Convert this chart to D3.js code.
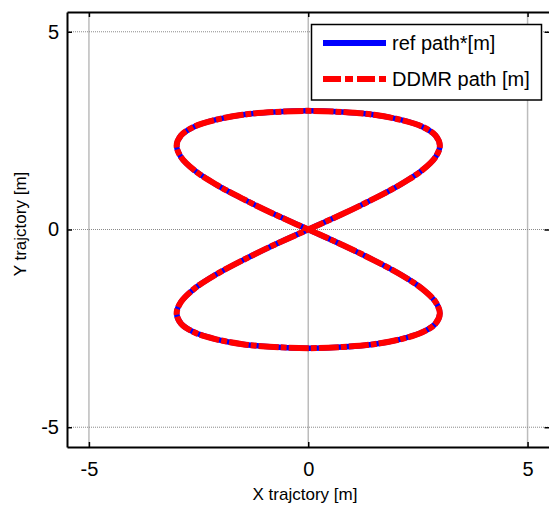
<!DOCTYPE html>
<html>
<head>
<meta charset="utf-8">
<script src="https://cdn.jsdelivr.net/npm/d3@7"></script>
<style>
  body { margin: 0; background: #fff; }
  svg { display: block; font-family: "Liberation Sans", Arial, sans-serif; }
</style>
</head>
<body>
<div id="chart"></div>
<script>
// figure-eight, points (x, y in metres)
const refX = [0, 0.78, 1.5, 2.12, 2.6, 2.9, 3, 2.9, 2.6, 2.12, 1.5, 0.78,
              0, -0.78, -1.5, -2.12, -2.6, -2.9, -3, -2.9, -2.6, -2.12, -1.5, -0.78,
              0, 0.78, 1.5, 2.12, 2.6, 2.9, 3, 2.9, 2.6, 2.12, 1.5, 0.78,
              0, -0.78, -1.5, -2.12, -2.6, -2.9, -3, -2.9, -2.6, -2.12, -1.5, -0.78];
const refY = [0, 0.39, 0.78, 1.15, 1.5, 1.83, 2.12, 2.38, 2.6, 2.77, 2.9, 2.97,
              3, 2.97, 2.9, 2.77, 2.6, 2.38, 2.12, 1.83, 1.5, 1.15, 0.78, 0.39,
              0, -0.39, -0.78, -1.15, -1.5, -1.83, -2.12, -2.38, -2.6, -2.77, -2.9, -2.97,
              -3, -2.97, -2.9, -2.77, -2.6, -2.38, -2.12, -1.83, -1.5, -1.15, -0.78, -0.39];
const ddmrX = [0, 0.78, 1.5, 2.12, 2.6, 2.9, 3, 2.9, 2.6, 2.12, 1.5, 0.78,
               0, -0.78, -1.5, -2.12, -2.6, -2.9, -3, -2.9, -2.6, -2.12, -1.5, -0.78,
               0, 0.78, 1.5, 2.12, 2.6, 2.9, 3, 2.9, 2.6, 2.12, 1.5, 0.78,
               0, -0.78, -1.5, -2.12, -2.6, -2.9, -3, -2.9, -2.6, -2.12, -1.5, -0.78];
const ddmrY = [0, 0.39, 0.78, 1.15, 1.5, 1.83, 2.12, 2.38, 2.6, 2.77, 2.9, 2.97,
               3, 2.97, 2.9, 2.77, 2.6, 2.38, 2.12, 1.83, 1.5, 1.15, 0.78, 0.39,
               0, -0.39, -0.78, -1.15, -1.5, -1.83, -2.12, -2.38, -2.6, -2.77, -2.9, -2.97,
               -3, -2.97, -2.9, -2.77, -2.6, -2.38, -2.12, -1.83, -1.5, -1.15, -0.78, -0.39];
const tickVals = [-5, 0, 5];
const legendLabels = ["ref path*[m]", "DDMR path [m]"];

const width = 549, height = 510;
const margin = { top: 12, right: 0, bottom: 63, left: 67 };

const svg = d3.select('#chart').append('svg')
  .attr('width', width)
  .attr('height', height);

const x = d3.scaleLinear().domain([-5.5, 5.5]).range([margin.left, 549.5]);
const y = d3.scaleLinear().domain([-5.5, 5.5]).range([height - margin.bottom, margin.top]);

const x0 = x(-5.5), x1 = x(5.5), y0 = y(-5.5), y1 = y(5.5);

// grid
svg.append('g').selectAll('line').data(tickVals).enter().append('line')
  .attr('x1', d => x(d)).attr('x2', d => x(d))
  .attr('y1', y1).attr('y2', y0)
  .style('stroke', '#bcbcbc').style('stroke-width', 1.5);
svg.append('g').selectAll('line').data(tickVals).enter().append('line')
  .attr('x1', x0).attr('x2', x1)
  .attr('y1', d => y(d)).attr('y2', d => y(d))
  .style('stroke', '#8a8a8a').style('stroke-width', 1)
  .style('stroke-dasharray', '1,1');

// paths
const line = d3.line()
  .x(d => x(d[0]))
  .y(d => y(d[1]))
  .curve(d3.curveCatmullRomClosed.alpha(0.5));

const refData = refX.map((v, i) => [v, refY[i]]);
const ddmrData = ddmrX.map((v, i) => [v, ddmrY[i]]);

svg.append('path')
  .datum(refData)
  .attr('d', line)
  .style('fill', 'none')
  .style('stroke', '#0000ff')
  .style('stroke-width', 5.5);

svg.append('path')
  .datum(ddmrData)
  .attr('d', line)
  .style('fill', 'none')
  .style('stroke', '#ff0000')
  .style('stroke-width', 6)
  .style('stroke-dasharray', '20,2,6,2');

// axes (ticks inward, on all four sides)
const fmt = d => String(d);
svg.append('g')
  .attr('transform', `translate(0,${y0})`)
  .call(d3.axisBottom(x).tickValues(tickVals).tickFormat(fmt).tickSizeInner(-5).tickSizeOuter(0).tickPadding(15));
svg.append('g')
  .attr('transform', `translate(0,${y1})`)
  .call(d3.axisTop(x).tickValues(tickVals).tickSizeInner(-5).tickSizeOuter(0).tickFormat(''));
svg.append('g')
  .attr('transform', `translate(${x0},0)`)
  .call(d3.axisLeft(y).tickValues(tickVals).tickFormat(fmt).tickSizeInner(-5).tickSizeOuter(0).tickPadding(8));
svg.append('g')
  .attr('transform', `translate(${x1},0)`)
  .call(d3.axisRight(y).tickValues(tickVals).tickSizeInner(-5).tickSizeOuter(0).tickFormat(''));

svg.selectAll('.domain').style('stroke', '#000').style('stroke-width', 2);
svg.selectAll('.tick line').style('stroke', '#000').style('stroke-width', 1.5);
svg.selectAll('.tick text')
  .style('font-size', '20px')
  .style('fill', '#000')
  .style('font-family', '"Liberation Sans", Arial, sans-serif');

// axis labels
svg.append('text')
  .attr('x', 305).attr('y', 500)
  .attr('text-anchor', 'middle')
  .style('font-size', '17px')
  .text('X trajctory [m]');
svg.append('text')
  .attr('transform', 'translate(26,224) rotate(-90)')
  .attr('text-anchor', 'middle')
  .style('font-size', '17px')
  .text('Y trajctory [m]');

// legend
const lg = svg.append('g');
lg.append('rect')
  .attr('x', 311.5).attr('y', 24.5)
  .attr('width', 230).attr('height', 75.5)
  .style('fill', '#fff').style('stroke', '#000').style('stroke-width', 1.5);
const legendStyles = [
  { color: '#0000ff', dash: null },
  { color: '#ff0000', dash: '18,4,8,4' }
];
legendLabels.forEach((lab, i) => {
  const ly = 43 + i * 36;
  lg.append('line')
    .attr('x1', 323).attr('x2', 386)
    .attr('y1', ly).attr('y2', ly)
    .style('stroke', legendStyles[i].color)
    .style('stroke-width', 6)
    .style('stroke-dasharray', legendStyles[i].dash);
  lg.append('text')
    .attr('x', 392).attr('y', ly + 7)
    .style('font-size', '20px')
    .text(lab);
});
</script>
</body>
</html>
